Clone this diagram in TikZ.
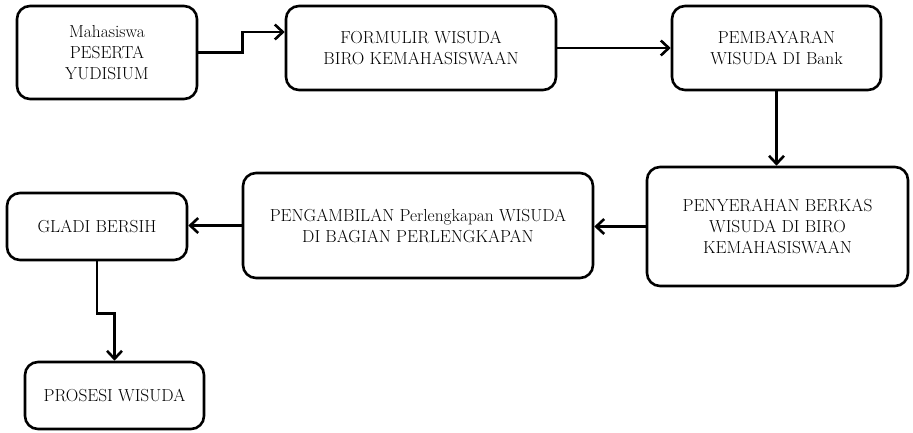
\documentclass[tikz,border=0pt]{standalone}
\usepackage{tikz}
\usetikzlibrary{calc, positioning, arrows.meta}

\begin{document}
\begin{tikzpicture}[x=1pt, y=-1pt, >={Straight Barb[length=8pt, width=15pt]},
  box/.style={draw, line width=2.6pt, rounded corners=13pt, align=center,
    font=\fontsize{17.4}{21}\selectfont, inner sep=2pt},
  arr/.style={->, line width=2.6pt}]

  \useasboundingbox (0,0) rectangle (913,432);

  % Blocks
  \node[box, minimum width=180, minimum height=93] (mhs) at (107,52.5) {Mahasiswa\\PESERTA\\YUDISIUM};
  \node[box, minimum width=270, minimum height=84] (form) at (421,48) {FORMULIR WISUDA\\BIRO KEMAHASISWAAN};
  \node[box, minimum width=209, minimum height=84] (bayar) at (776.5,48) {PEMBAYARAN\\WISUDA DI Bank};
  \node[box, minimum width=261, minimum height=119] (serah) at (777.5,226.5) {PENYERAHAN BERKAS\\WISUDA DI BIRO\\KEMAHASISWAAN};
  \node[box, minimum width=350, minimum height=105] (ambil) at (418,225.5) {PENGAMBILAN Perlengkapan WISUDA\\DI BAGIAN PERLENGKAPAN};
  \node[box, minimum width=180, minimum height=67] (gladi) at (97,226.5) {GLADI BERSIH};
  \node[box, minimum width=179, minimum height=67] (prosesi) at (114.5,395.5) {PROSESI WISUDA};

  % Flow
  \draw[arr] (mhs.east) -- ++(44,0) |- ([yshift=16pt]form.west);
  \draw[arr] (form.east) -- (bayar.west);
  \draw[arr] (bayar.south) -- (bayar.south |- serah.north);
  \draw[arr] (serah.west) -- (serah.west -| ambil.east);
  \draw[arr] (ambil.west) -- (ambil.west -| gladi.east);
  \draw[arr] (gladi.south) -- ++(0,52) -| (prosesi.north);

\end{tikzpicture}
\end{document}
